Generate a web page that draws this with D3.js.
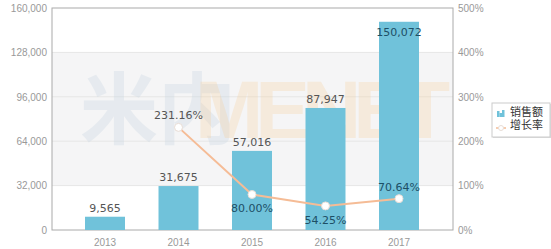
<!DOCTYPE html>
<html>
<head>
<meta charset="utf-8">
<script src="https://cdn.jsdelivr.net/npm/d3@7/dist/d3.min.js"></script>
<style>
	body { margin: 0; background: #fff; }
	svg { display: block; font-family: Verdana, 'DejaVu Sans', sans-serif; }
	.tick text { fill: #999; font-size: 10px; }
</style>
</head>
<body>
<svg id="chart" width="551" height="249"></svg>
<script>

var years = [ '2013', '2014', '2015', '2016', '2017' ];
var sales = [ 9565, 31675, 57016, 87947, 150072 ];
var growth = [ null, 231.16, 80.00, 54.25, 70.64 ];
var salesTicks = [ 0, 32000, 64000, 96000, 128000, 160000 ];
var growthTicks = [ 0, 100, 200, 300, 400, 500 ];
var legendNames = [ '销售额', '增长率' ];

var svg = d3.select( '#chart' );

var plot = { left: 52, right: 453, top: 8, bottom: 230 };

var x = d3.scaleBand().domain( years ).range( [ 68.25, 435.75 ] )
	.paddingInner( 0.456 ).paddingOuter( 0.228 );
var y = d3.scaleLinear().domain( [ 0, 160000 ] ).range( [ plot.bottom, plot.top ] );
var y2 = d3.scaleLinear().domain( [ 0, 500 ] ).range( [ plot.bottom, plot.top ] );

// shaded split areas between the 32k and 128k lines
svg.append( 'rect' )
	.attr( 'x', plot.left ).attr( 'y', y( 128000 ) )
	.attr( 'width', plot.right - plot.left ).attr( 'height', y( 32000 ) - y( 128000 ) )
	.style( 'fill', '#f5f5f6' );

svg.selectAll( 'line.grid' )
	.data( salesTicks.slice( 1, -1 ) )
	.enter()
	.append( 'line' )
	.classed( 'grid', true )
	.attr( 'x1', plot.left ).attr( 'x2', plot.right )
	.attr( 'y1', function ( d ) { return y( d ); } )
	.attr( 'y2', function ( d ) { return y( d ); } )
	.style( 'stroke', '#e6e6e6' );

// watermark
var wm = svg.append( 'g' ).style( 'font-weight', 'bold' ).style( 'font-family', "'Noto Sans CJK SC', sans-serif" );
wm.append( 'text' ).attr( 'x', 80 ).attr( 'y', 138 ).style( 'font-size', '78px' )
	.style( 'fill', '#c8d6e2' ).style( 'opacity', 0.32 ).text( '米内' );
wm.append( 'text' ).attr( 'x', 195 ).attr( 'y', 138 ).style( 'font-size', '82px' )
	.style( 'font-family', "'Liberation Sans', sans-serif" )
	.style( 'fill', '#f9c98c' ).style( 'opacity', 0.24 ).attr( 'textLength', 255 ).text( 'MENET' );

svg.append( 'rect' )
	.attr( 'x', plot.left ).attr( 'y', plot.top )
	.attr( 'width', plot.right - plot.left ).attr( 'height', plot.bottom - plot.top )
	.style( 'fill', 'none' ).style( 'stroke', '#aaa' );

var yAxis = d3.axisLeft( y ).tickValues( salesTicks ).tickSize( 0 ).tickPadding( 5 )
	.tickFormat( d3.format( ',' ) );
svg.append( 'g' ).attr( 'transform', 'translate(' + plot.left + ',0)' ).call( yAxis )
	.call( function ( g ) { g.select( '.domain' ).remove(); } );

var y2Axis = d3.axisRight( y2 ).tickValues( growthTicks ).tickSize( 0 ).tickPadding( 5 )
	.tickFormat( function ( d ) { return d + '%'; } );
svg.append( 'g' ).attr( 'transform', 'translate(' + plot.right + ',0)' ).call( y2Axis )
	.call( function ( g ) { g.select( '.domain' ).remove(); } );

var xAxis = d3.axisBottom( x ).tickSize( 0 ).tickPadding( 9 );
svg.append( 'g' ).attr( 'transform', 'translate(0,' + plot.bottom + ')' ).call( xAxis )
	.call( function ( g ) { g.select( '.domain' ).remove(); } );

// bars
svg.selectAll( 'rect.bar' )
	.data( sales )
	.enter()
	.append( 'rect' )
	.classed( 'bar', true )
	.attr( 'x', function ( d, i ) { return x( years[i] ); } )
	.attr( 'y', function ( d ) { return y( d ); } )
	.attr( 'width', x.bandwidth() )
	.attr( 'height', function ( d ) { return plot.bottom - y( d ); } )
	.style( 'fill', '#70c2da' );

svg.selectAll( 'text.barlabel' )
	.data( sales )
	.enter()
	.append( 'text' )
	.classed( 'barlabel', true )
	.attr( 'x', function ( d, i ) { return x( years[i] ) + x.bandwidth() / 2; } )
	.attr( 'y', function ( d, i ) { return i === 4 ? y( d ) + 14 : y( d ) - 5; } )
	.attr( 'text-anchor', 'middle' )
	.style( 'font-size', '11px' )
	.style( 'fill', function ( d, i ) { return i === 4 ? '#1d4f66' : '#555'; } )
	.text( d3.format( ',' ) );

// growth line
var pts = [];
growth.forEach( function ( g, i ) {
	if ( g !== null ) pts.push( { year: years[i], v: g, i: i } );
} );

var line = d3.line()
	.x( function ( d ) { return x( d.year ) + x.bandwidth() / 2; } )
	.y( function ( d ) { return y2( d.v ); } );

svg.append( 'path' )
	.datum( pts )
	.attr( 'd', line )
	.style( 'fill', 'none' )
	.style( 'stroke', '#f5bc96' )
	.style( 'stroke-width', 2 );

svg.selectAll( 'circle.pt' )
	.data( pts )
	.enter()
	.append( 'circle' )
	.classed( 'pt', true )
	.attr( 'cx', function ( d ) { return x( d.year ) + x.bandwidth() / 2; } )
	.attr( 'cy', function ( d ) { return y2( d.v ); } )
	.attr( 'r', 4 )
	.style( 'fill', '#fff' )
	.style( 'stroke', '#e8ddd6' )
	.style( 'stroke-width', 1 );

svg.selectAll( 'text.ptlabel' )
	.data( pts )
	.enter()
	.append( 'text' )
	.classed( 'ptlabel', true )
	.attr( 'x', function ( d ) { return x( d.year ) + x.bandwidth() / 2; } )
	.attr( 'y', function ( d ) {
		var below = d.i === 2 || d.i === 3;
		return below ? y2( d.v ) + 18 : y2( d.v ) - 8;
	} )
	.attr( 'text-anchor', 'middle' )
	.style( 'font-size', '11px' )
	.style( 'fill', function ( d ) { return d.i === 1 ? '#555' : '#1d4f66'; } )
	.text( function ( d ) { return d.v.toFixed( 2 ) + '%'; } );

// legend
var legend = svg.append( 'g' ).attr( 'transform', 'translate(492,103)' );
legend.append( 'rect' ).attr( 'x', 1 ).attr( 'y', 1 ).attr( 'width', 58 ).attr( 'height', 34 )
	.style( 'fill', '#ddd' );
legend.append( 'rect' ).attr( 'width', 58 ).attr( 'height', 34 )
	.style( 'fill', '#fff' ).style( 'stroke', '#ccc' );

[ [ 3, 6 ], [ 5.5, 4 ], [ 8, 7 ] ].forEach( function ( b ) {
	legend.append( 'rect' ).attr( 'x', 4 + b[0] - 2 ).attr( 'y', 14 - b[1] )
		.attr( 'width', 2.5 ).attr( 'height', b[1] ).style( 'fill', '#70c2da' );
} );
legend.append( 'line' ).attr( 'x1', 4 ).attr( 'x2', 14 ).attr( 'y1', 25 ).attr( 'y2', 25 )
	.style( 'stroke', '#f5bc96' ).style( 'stroke-width', 1.5 );
legend.append( 'circle' ).attr( 'cx', 9 ).attr( 'cy', 25 ).attr( 'r', 2.5 )
	.style( 'fill', '#fff' ).style( 'stroke', '#e8ddd6' );

legend.selectAll( 'text' )
	.data( legendNames )
	.enter()
	.append( 'text' )
	.attr( 'x', 18 )
	.attr( 'y', function ( d, i ) { return 13 + i * 13; } )
	.style( 'font-size', '11px' )
	.style( 'font-family', "'Noto Sans CJK SC', sans-serif" )
	.style( 'fill', '#333' )
	.text( function ( d ) { return d; } );

</script>
</body>
</html>
